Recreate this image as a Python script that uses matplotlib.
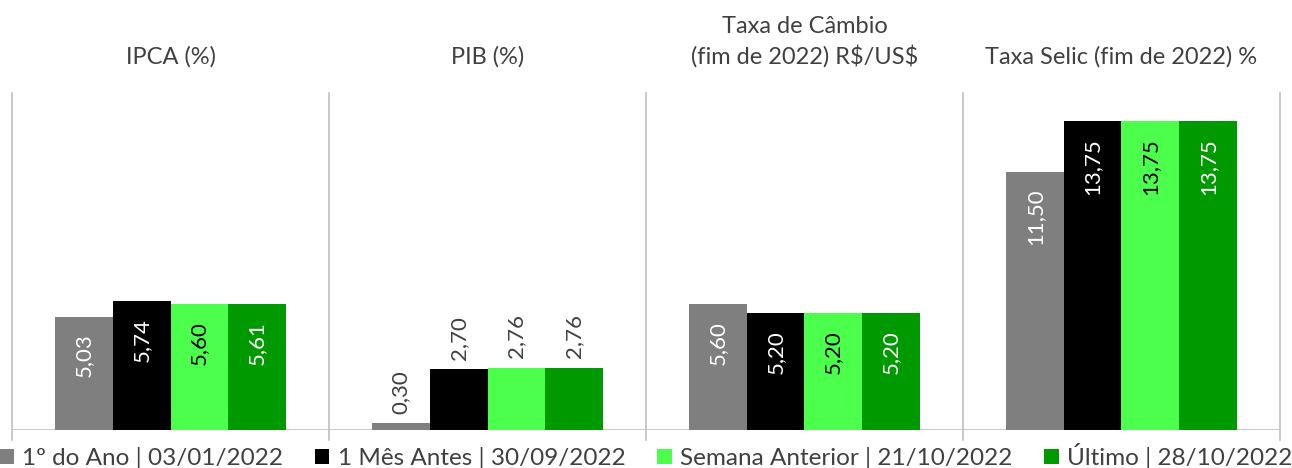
"""
Focus survey expectations: four indicators, four survey dates.
Saves the grouped bar chart as out.png.
"""

import matplotlib.pyplot as plt
import numpy as np
from matplotlib.patches import Patch
from matplotlib.transforms import blended_transform_factory


# 1. Chart data

indicators = [
    "IPCA (%)",
    "PIB (%)",
    "Taxa de Câmbio\n(fim de 2022) R\\$/US\\$",
    "Taxa Selic (fim de 2022) %",
]

survey_labels = [
    "1º do Ano | 03/01/2022",
    "1 Mês Antes | 30/09/2022",
    "Semana Anterior | 21/10/2022",
    "Último | 28/10/2022",
]

first_of_year = [5.03, 0.30, 5.60, 11.50]
month_before = [5.74, 2.70, 5.20, 13.75]
previous_week = [5.60, 2.76, 5.20, 13.75]
latest = [5.61, 2.76, 5.20, 13.75]

series = [first_of_year, month_before, previous_week, latest]


# 2. Styles

plt.rcParams["font.family"] = ["Lato", "DejaVu Sans"]

bar_colors = ["#7f7f7f", "#000000", "#4dff4d", "#009900"]
inside_text_colors = ["white", "white", "black", "white"]
grid_color = "#bfbfbf"
text_color = "#404040"

BAR_WIDTH = 0.182
INSIDE_MIN_VALUE = 4.0


# 3. Build figure

fig = plt.figure(figsize=(12.92, 4.68), dpi=100)
ax = fig.add_axes([0.0093, 0.0812, 0.9814, 0.7198])

x = np.arange(len(indicators))

for i, values in enumerate(series):
    offset = (i - 1.5) * BAR_WIDTH
    bars = ax.bar(
        x + offset,
        values,
        width=BAR_WIDTH,
        color=bar_colors[i],
        zorder=3
    )

    for bar, value in zip(bars, values):
        label = f"{value:.2f}".replace(".", ",")
        center = bar.get_x() + bar.get_width() / 2

        if value >= INSIDE_MIN_VALUE:
            ax.annotate(
                label,
                xy=(center, value),
                xytext=(0, -12),
                textcoords="offset points",
                rotation=90,
                ha="center",
                va="top",
                fontsize=16,
                color=inside_text_colors[i],
                zorder=4
            )
        else:
            ax.annotate(
                label,
                xy=(center, value),
                xytext=(0, 7),
                textcoords="offset points",
                rotation=90,
                ha="center",
                va="bottom",
                fontsize=16,
                color=text_color,
                zorder=4
            )


# 4. Axes, separators and titles

ax.set_xlim(-0.5, len(indicators) - 0.5)
ax.set_ylim(0, 15)

for spine in ax.spines.values():
    spine.set_visible(False)

ax.set_xticks([])
ax.set_yticks([])

ax.axhline(0, color=grid_color, linewidth=1.2, zorder=2)

for boundary in np.arange(-0.5, len(indicators), 1.0):
    ax.plot(
        [boundary, boundary],
        [-0.45, 15],
        color=grid_color,
        linewidth=1.2,
        clip_on=False,
        zorder=1
    )

title_transform = blended_transform_factory(ax.transData, ax.transAxes)

for position, title in zip(x, indicators):
    ax.text(
        position,
        1.075,
        title,
        transform=title_transform,
        ha="center",
        va="bottom",
        fontsize=17,
        color=text_color,
        linespacing=1.4
    )


# 5. Legend

handles = [
    Patch(facecolor=color, edgecolor="none")
    for color in bar_colors
]

fig.legend(
    handles,
    survey_labels,
    loc="center",
    bbox_to_anchor=(0.5, 0.026),
    ncol=4,
    frameon=False,
    fontsize=17.5,
    handlelength=0.6,
    handleheight=0.6,
    handletextpad=0.35,
    columnspacing=1.3,
    borderpad=0.0,
    labelcolor=text_color
)

fig.savefig("out.png", dpi=100)
plt.close(fig)
